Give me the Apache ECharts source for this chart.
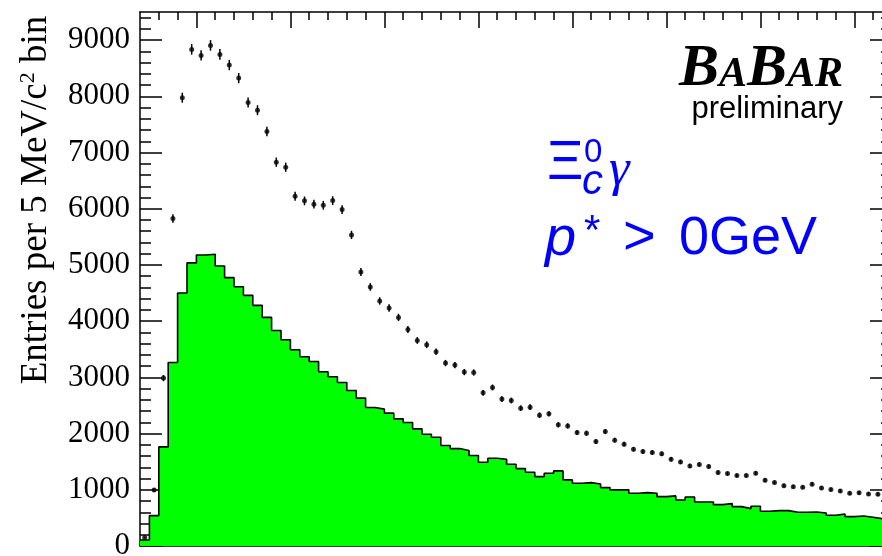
<!DOCTYPE html>
<html><head><meta charset="utf-8">
<script src="https://cdn.jsdelivr.net/npm/echarts@6/dist/echarts.min.js"></script>
<style>html,body{margin:0;padding:0;background:#fff}#c{width:882px;height:556px}</style>
</head><body><div id="c"></div>
<script>
// ---- axis structure ----
const xMin = 2.47, xMax = 2.87, binWidth = 0.005;
const yMin = 0, yMax = 9500;
const xMajorTicks = [2.5, 2.55, 2.6, 2.65, 2.7, 2.75, 2.8, 2.85];
const xMinorTicks = [2.48, 2.49, 2.51, 2.52, 2.53, 2.54, 2.56, 2.57, 2.58, 2.59, 2.61, 2.62, 2.63, 2.64,
  2.66, 2.67, 2.68, 2.69, 2.71, 2.72, 2.73, 2.74, 2.76, 2.77, 2.78, 2.79, 2.81, 2.82, 2.83, 2.84, 2.86];
const yMajorTicks = [0, 1000, 2000, 3000, 4000, 5000, 6000, 7000, 8000, 9000];
const yMinorTicks = [200, 400, 600, 800, 1200, 1400, 1600, 1800, 2200, 2400, 2600, 2800, 3200, 3400, 3600, 3800,
  4200, 4400, 4600, 4800, 5200, 5400, 5600, 5800, 6200, 6400, 6600, 6800, 7200, 7400, 7600, 7800,
  8200, 8400, 8600, 8800, 9200, 9400];

// ---- data (points with error bars) ----
const dataCounts = [150, 997, 2987, 5825, 7975, 8835, 8728, 8906, 8746, 8556,
  8324, 7891, 7754, 7374, 6828, 6739, 6222, 6140, 6080, 6062,
  6145, 5985, 5534, 4875, 4608, 4360, 4234, 4067, 3853, 3657,
  3580, 3456, 3254, 3218, 3094, 3087, 2725, 2820, 2613, 2588,
  2452, 2470, 2328, 2351, 2155, 2137, 2018, 2007, 1858, 2036,
  1883, 1811, 1722, 1680, 1662, 1639, 1544, 1496, 1425, 1449,
  1413, 1306, 1288, 1252, 1252, 1295, 1170, 1128, 1074, 1056,
  1045, 1099, 1033, 1003, 980, 939, 949, 926, 921, 910];
const dataErrors = [12, 32, 55, 76, 89, 94, 93, 94, 94, 92,
  91, 89, 88, 86, 83, 82, 79, 78, 78, 78,
  78, 77, 74, 70, 68, 66, 65, 64, 62, 60,
  60, 59, 57, 57, 56, 56, 52, 53, 51, 51,
  50, 50, 48, 48, 46, 46, 45, 45, 43, 45,
  43, 43, 41, 41, 41, 40, 39, 39, 38, 38,
  38, 36, 36, 35, 35, 36, 34, 34, 33, 32,
  32, 33, 32, 32, 31, 31, 31, 30, 30, 30];

// ---- green histogram ----
const histCounts = [107, 540, 1763, 3265, 4501, 5036, 5178, 5189, 4982, 4774,
  4613, 4459, 4281, 4067, 3835, 3669, 3491, 3367, 3283, 3100,
  3010, 2909, 2766, 2631, 2464, 2435, 2363, 2262, 2197, 2084,
  1989, 1936, 1787, 1733, 1698, 1609, 1490, 1562, 1544, 1455,
  1377, 1312, 1235, 1294, 1336, 1176, 1117, 1128, 1104, 1039,
  998, 1000, 939, 950, 939, 878, 891, 819, 873, 784,
  784, 736, 754, 700, 665, 707, 618, 629, 629, 600,
  600, 606, 588, 547, 570, 522, 534, 511, 486, 480];

const binLow = histCounts.map((_, i) => +(xMin + i * binWidth).toFixed(4));
const binCenter = binLow.map(x => +(x + binWidth / 2).toFixed(4));

const histLine = histCounts.map((v, i) => [binLow[i], v]);
histLine.push([xMax, histCounts[histCounts.length - 1]]);

const pointData = dataCounts.map((v, i) => [binCenter[i], v, dataErrors[i]]);

const chart = echarts.init(document.getElementById('c'), null, {renderer: 'canvas'});
const black = '#000';
const serif = 'Liberation Serif';
const sans = 'Liberation Sans';

function xAx(pos, ticks, len, showLine, labels) {
  return {
    type: 'value', position: pos, min: xMin, max: xMax,
    axisLine: {show: showLine, onZero: false, lineStyle: {color: black, width: 1.5}},
    axisTick: {show: true, inside: true, length: len, customValues: ticks, lineStyle: {color: black, width: 1.5}},
    axisLabel: labels ? {show: true, customValues: ticks, color: black, fontFamily: serif, fontSize: 31, margin: 8,
      formatter: v => String(+(+v).toFixed(2))} : {show: false},
    splitLine: {show: false}, minorTick: {show: false}, minorSplitLine: {show: false}
  };
}
function yAx(pos, ticks, len, showLine, labels) {
  return {
    type: 'value', position: pos, min: yMin, max: yMax,
    axisLine: {show: showLine, onZero: false, lineStyle: {color: black, width: 1.5}},
    axisTick: {show: true, inside: true, length: len, customValues: ticks, lineStyle: {color: black, width: 1.5}},
    axisLabel: labels ? {show: true, customValues: ticks, color: black, fontFamily: serif, fontSize: 31, margin: 10,
      formatter: v => String(Math.round(v))} : {show: false},
    splitLine: {show: false}, minorTick: {show: false}, minorSplitLine: {show: false}
  };
}

const option = {
  backgroundColor: '#fff',
  animation: false,
  grid: {left: 140, right: -10, top: 12, bottom: 10, containLabel: false, outerBoundsMode: 'none'},
  xAxis: [
    xAx('bottom', xMajorTicks, 16, true, true),
    xAx('bottom', xMinorTicks, 8, false, false),
    xAx('top', xMajorTicks, 16, true, false),
    xAx('top', xMinorTicks, 8, false, false)
  ],
  yAxis: [
    yAx('left', yMajorTicks, 22, true, true),
    yAx('left', yMinorTicks, 11, false, false),
    yAx('right', yMajorTicks, 22, true, false),
    yAx('right', yMinorTicks, 11, false, false)
  ],
  series: [
    {
      type: 'line', xAxisIndex: 0, yAxisIndex: 0, data: histLine, step: 'end',
      symbol: 'none', lineStyle: {color: '#000', width: 1.6},
      areaStyle: {color: '#00ff00', opacity: 1}, z: 1, silent: true
    },
    {
      type: 'custom', xAxisIndex: 0, yAxisIndex: 0, data: pointData, z: 4,
      encode: {x: 0, y: 1},
      renderItem: (params, api) => {
        const x = api.value(0), y = api.value(1), e = api.value(2);
        const a = api.coord([x, y + e]), b = api.coord([x, y - e]);
        return {type: 'line', shape: {x1: a[0], y1: a[1], x2: b[0], y2: b[1]},
          style: {stroke: '#000', lineWidth: 1.5}};
      }
    },
    {
      type: 'scatter', xAxisIndex: 0, yAxisIndex: 0, data: pointData.map(p => [p[0], p[1]]),
      symbol: 'circle', symbolSize: 5, itemStyle: {color: '#000'}, z: 5, silent: true
    }
  ],
  graphic: [
    {type: 'text', x: 36, y: 200, rotation: Math.PI / 2, silent: true,
      style: {text: 'Entries per 5 MeV/c{sup|2} bin', fill: black, font: '37px "Liberation Serif"',
        align: 'center', verticalAlign: 'middle',
        rich: {sup: {fontSize: 22, fontFamily: serif, fill: black, verticalAlign: 'top', lineHeight: 37}}}},
    {type: 'text', x: 843, y: 99, silent: true,
      style: {text: '{b|B}{s|A}{b|B}{s|AR}', align: 'right', verticalAlign: 'bottom',
        rich: {
          b: {fontSize: 60, fontFamily: serif, fontWeight: 'bold', fontStyle: 'italic', fill: black, lineHeight: 60, verticalAlign: 'bottom'},
          s: {fontSize: 42, fontFamily: serif, fontWeight: 'bold', fontStyle: 'italic', fill: black, lineHeight: 42, verticalAlign: 'bottom', padding: [0, 0, 3, 0]}
        }}},
    {type: 'text', x: 843, y: 109, silent: true,
      style: {text: 'preliminary', fill: black, font: '31px "Liberation Sans"', align: 'right', verticalAlign: 'middle'}},
    {type: 'text', x: 547, y: 164, silent: true,
      style: {text: 'Ξ', fill: '#0000ff', font: '56px "Liberation Sans"', align: 'left', verticalAlign: 'middle'}},
    {type: 'text', x: 584, y: 153, silent: true,
      style: {text: '0', fill: '#0000ff', font: '33px "Liberation Sans"', align: 'left', verticalAlign: 'middle'}},
    {type: 'text', x: 582, y: 182, silent: true,
      style: {text: 'c', fill: '#0000ff', font: 'italic 42px "Liberation Sans"', align: 'left', verticalAlign: 'middle'}},
    {type: 'text', x: 609, y: 171, silent: true,
      style: {text: 'γ', fill: '#0000ff', font: 'italic 52px "Liberation Serif"', align: 'left', verticalAlign: 'middle'}},
    {type: 'text', x: 545, y: 239, silent: true,
      style: {text: 'p', fill: '#0000ff', font: 'italic 56px "Liberation Sans"', align: 'left', verticalAlign: 'middle'}},
    {type: 'text', x: 584, y: 232, silent: true,
      style: {text: '*', fill: '#0000ff', font: '42px "Liberation Sans"', align: 'left', verticalAlign: 'middle'}},
    {type: 'text', x: 623, y: 239, silent: true,
      style: {text: '>', fill: '#0000ff', font: '56px "Liberation Sans"', align: 'left', verticalAlign: 'middle'}},
    {type: 'text', x: 679, y: 239, silent: true,
      style: {text: '0GeV', fill: '#0000ff', font: '54px "Liberation Sans"', align: 'left', verticalAlign: 'middle'}}
  ]
};
chart.setOption(option);
</script>
</body></html>
